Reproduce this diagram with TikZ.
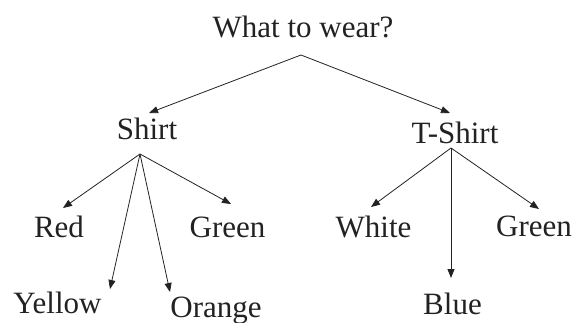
\documentclass[tikz,border=0pt]{standalone}
\usepackage{fontspec}
\setmainfont{Liberation Serif}
\usetikzlibrary{arrows.meta}
\definecolor{ink}{HTML}{222222}
\begin{document}
\begin{tikzpicture}[x=1pt,y=-1pt,
  lbl/.style={anchor=base,inner sep=0pt,text=ink,font=\fontsize{31}{34}\selectfont},
  arr/.style={draw=ink,line width=0.8pt,-{Triangle[length=9pt,width=7pt]}}]
\useasboundingbox (0,0) rectangle (574,322);
\node[lbl] (root) at (303,37) {What to wear?};
\node[lbl] (shirt) at (147,139) {Shirt};
\node[lbl] (tshirt) at (455,143) {T-Shirt};
\node[lbl] (red) at (59,237) {Red};
\node[lbl] (green1) at (227.5,237) {Green};
\node[lbl] (yellow) at (57.5,313) {Yellow};
\node[lbl] (orange) at (216,317) {Orange};
\node[lbl] (white) at (373.5,237) {White};
\node[lbl] (green2) at (534,236) {Green};
\node[lbl] (blue) at (452.5,314) {Blue};
\draw[arr] ([shift={(-2pt,-18pt)}]root.base) -- ([shift={(2pt,26pt)}]shirt.base);
\draw[arr] ([shift={(-2pt,-18pt)}]root.base) -- ([shift={(-5pt,30pt)}]tshirt.base);
\draw[arr] ([shift={(-7pt,-15pt)}]shirt.base) -- ([shift={(4pt,29pt)}]red.base);
\draw[arr] ([shift={(-7pt,-15pt)}]shirt.base) -- ([shift={(3.5pt,33pt)}]green1.base);
\draw[arr] ([shift={(-7pt,-15pt)}]shirt.base) -- ([shift={(52.5pt,24pt)}]yellow.base);
\draw[arr] ([shift={(-7pt,-15pt)}]shirt.base) -- ([shift={(-46pt,25pt)}]orange.base);
\draw[arr] ([shift={(-4pt,-5pt)}]tshirt.base) -- ([shift={(-2.5pt,30pt)}]white.base);
\draw[arr] ([shift={(-4pt,-5pt)}]tshirt.base) -- ([shift={(5pt,27pt)}]green2.base);
\draw[arr] ([shift={(-4pt,-5pt)}]tshirt.base) -- ([shift={(-1.5pt,36pt)}]blue.base);
\end{tikzpicture}
\end{document}
